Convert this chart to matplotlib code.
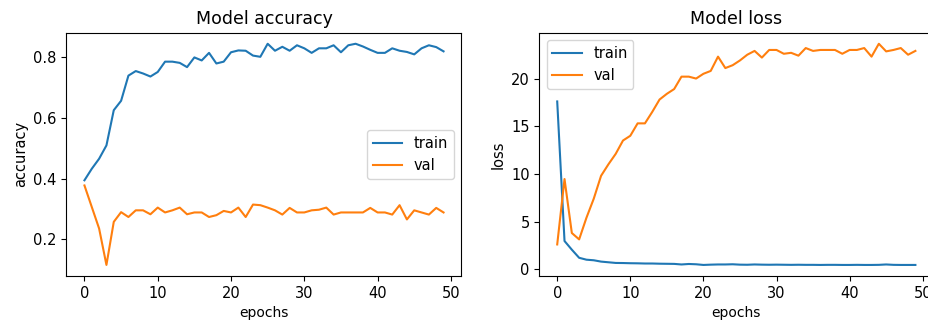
import matplotlib
matplotlib.use('Agg')
import matplotlib.pyplot as plt

epochs = list(range(50))

train_acc = [0.395, 0.433, 0.466, 0.51, 0.626, 0.657, 0.74, 0.755, 0.747, 0.737,
             0.752, 0.786, 0.786, 0.782, 0.768, 0.80, 0.79, 0.815, 0.78, 0.786,
             0.817, 0.823, 0.822, 0.806, 0.802, 0.845, 0.822, 0.835, 0.822, 0.84,
             0.83, 0.815, 0.83, 0.83, 0.84, 0.817, 0.84, 0.845, 0.836, 0.825,
             0.815, 0.815, 0.83, 0.822, 0.818, 0.81, 0.83, 0.84, 0.834, 0.82]
val_acc = [0.378, 0.307, 0.236, 0.116, 0.258, 0.29, 0.274, 0.296, 0.296, 0.283,
           0.305, 0.289, 0.296, 0.305, 0.283, 0.289, 0.289, 0.274, 0.28, 0.294,
           0.289, 0.305, 0.274, 0.315, 0.313, 0.305, 0.296, 0.282, 0.304, 0.289,
           0.289, 0.296, 0.298, 0.305, 0.282, 0.289, 0.289, 0.289, 0.289, 0.304,
           0.289, 0.289, 0.282, 0.313, 0.266, 0.296, 0.289, 0.282, 0.304, 0.289]

train_loss = [17.6, 2.96, 2.05, 1.2, 1.0, 0.94, 0.8, 0.73, 0.66, 0.65,
              0.63, 0.62, 0.6, 0.6, 0.58, 0.57, 0.56, 0.5, 0.55, 0.52,
              0.45, 0.48, 0.5, 0.5, 0.52, 0.48, 0.47, 0.5, 0.48, 0.47,
              0.48, 0.47, 0.46, 0.47, 0.46, 0.46, 0.45, 0.46, 0.46, 0.45,
              0.45, 0.46, 0.45, 0.45, 0.46, 0.5, 0.46, 0.45, 0.45, 0.45]
val_loss = [2.6, 9.46, 3.8, 3.13, 5.4, 7.4, 9.8, 11.0, 12.1, 13.5,
            14.0, 15.3, 15.3, 16.5, 17.8, 18.4, 18.9, 20.2, 20.2, 20.0,
            20.5, 20.8, 22.3, 21.1, 21.4, 21.9, 22.5, 22.9, 22.2, 23.0,
            23.0, 22.6, 22.7, 22.4, 23.2, 22.9, 23.0, 23.0, 23.0, 22.6,
            23.0, 23.0, 23.2, 22.3, 23.65, 22.85, 23.0, 23.2, 22.5, 22.9]

W, H = 929, 326
fig = plt.figure(figsize=(W / 100, H / 100), dpi=100)

# the right panel runs past the picture edge in the original
ax1 = fig.add_axes([66.5 / W, 50 / H, 395 / W, 243.3 / H])
ax2 = fig.add_axes([539.3 / W, 50 / H, 394 / W, 243.3 / H])

for ax, tr, va, title, ylab, loc in [
        (ax1, train_acc, val_acc, 'Model accuracy', 'accuracy', 'center right'),
        (ax2, train_loss, val_loss, 'Model loss', 'loss', 'upper left')]:
    ax.plot(epochs, tr, label='train')
    ax.plot(epochs, va, label='val')
    ax.set_title(title, fontsize=12.5)
    ax.set_xlabel('epochs', fontsize=10)
    ax.set_ylabel(ylab, fontsize=10.5)
    ax.tick_params(labelsize=10.5)
    ax.legend(loc=loc, fontsize=10.5)

ax1.set_yticks([0.2, 0.4, 0.6, 0.8])
ax2.set_yticks([0, 5, 10, 15, 20])

fig.savefig('out.png', dpi=100)
